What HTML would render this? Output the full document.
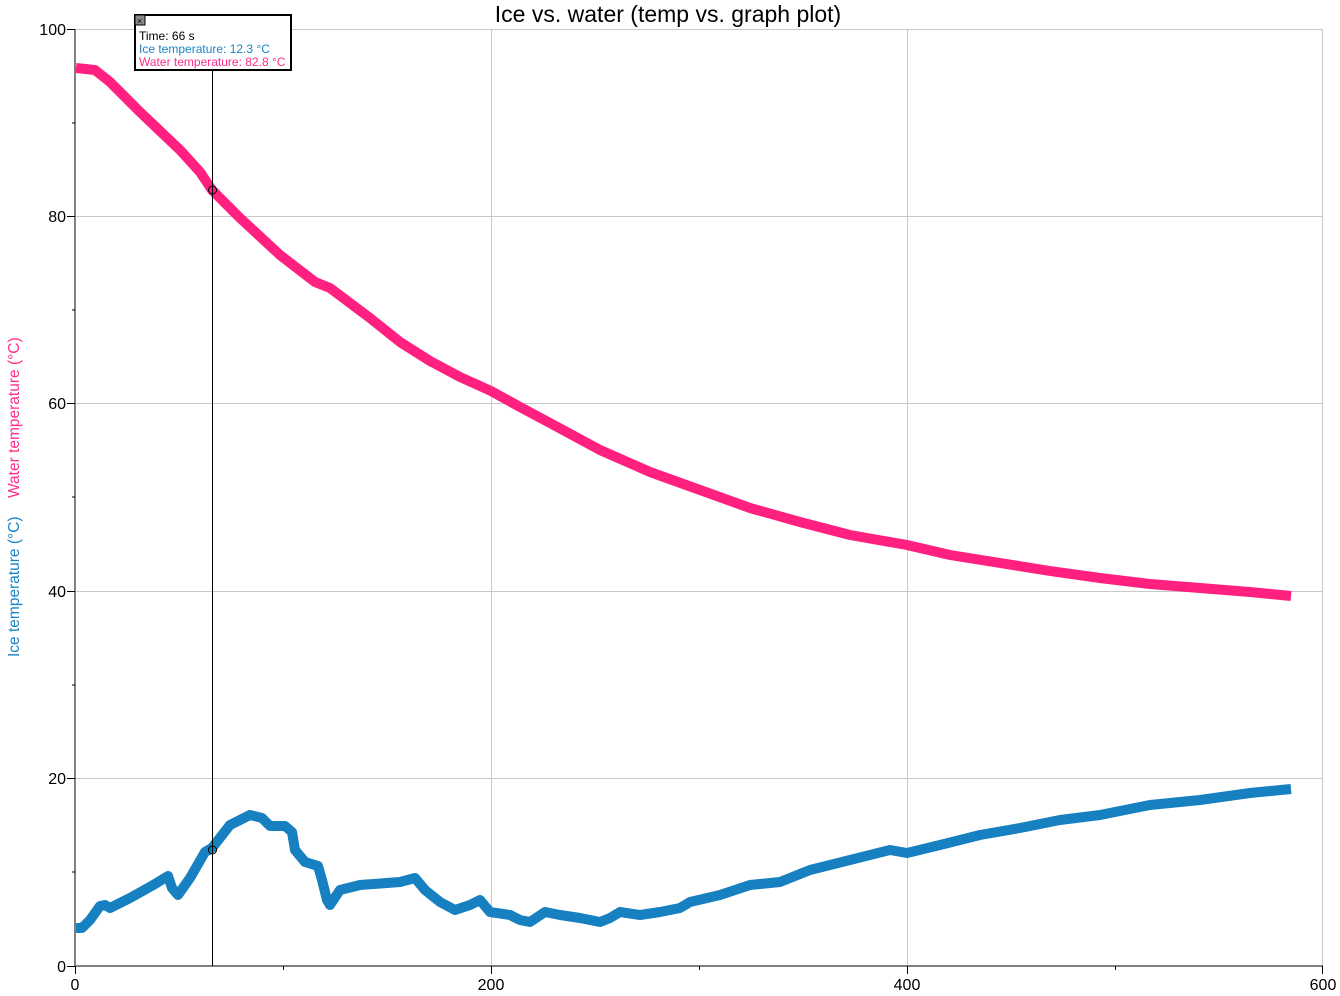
<!DOCTYPE html>
<html><head><meta charset="utf-8"><style>
html,body{margin:0;padding:0;background:#fff;}
svg{display:block;font-family:"Liberation Sans",Arial,sans-serif;}
</style></head><body>
<svg width="1340" height="996" viewBox="0 0 1340 996" xmlns="http://www.w3.org/2000/svg">
<rect width="1340" height="996" fill="#fff"/>
<g stroke="#c8c8c8" stroke-width="1">
<line x1="75" y1="29.5" x2="1323" y2="29.5"/>
<line x1="75" y1="216.5" x2="1323" y2="216.5"/>
<line x1="75" y1="403.5" x2="1323" y2="403.5"/>
<line x1="75" y1="591.5" x2="1323" y2="591.5"/>
<line x1="75" y1="778.5" x2="1323" y2="778.5"/>
<line x1="491.5" y1="29" x2="491.5" y2="966"/>
<line x1="907.5" y1="29" x2="907.5" y2="966"/>
<line x1="1322.5" y1="29" x2="1322.5" y2="966"/>
</g>
<g stroke="#808080" stroke-width="2">
<line x1="75" y1="29" x2="75" y2="967"/>
<line x1="74" y1="966" x2="1323" y2="966"/>
</g>
<g stroke="#000" stroke-width="1">
<line x1="67" y1="29.5" x2="75" y2="29.5"/><line x1="67" y1="216.5" x2="75" y2="216.5"/>
<line x1="67" y1="403.5" x2="75" y2="403.5"/><line x1="67" y1="591.5" x2="75" y2="591.5"/>
<line x1="67" y1="778.5" x2="75" y2="778.5"/><line x1="67" y1="966.5" x2="75" y2="966.5"/>
<line x1="72" y1="123" x2="75" y2="123"/><line x1="72" y1="310" x2="75" y2="310"/>
<line x1="72" y1="497" x2="75" y2="497"/><line x1="72" y1="685" x2="75" y2="685"/><line x1="72" y1="872" x2="75" y2="872"/>
<line x1="75.5" y1="966" x2="75.5" y2="974"/><line x1="491.5" y1="966" x2="491.5" y2="974"/>
<line x1="907.5" y1="966" x2="907.5" y2="974"/><line x1="1322.5" y1="966" x2="1322.5" y2="974"/>
<line x1="283.5" y1="966" x2="283.5" y2="970"/><line x1="699.5" y1="966" x2="699.5" y2="970"/><line x1="1115.5" y1="966" x2="1115.5" y2="970"/>
</g>
<g font-size="16" fill="#000" text-anchor="end">
<text x="66" y="35">100</text><text x="66" y="222">80</text><text x="66" y="409">60</text>
<text x="66" y="597">40</text><text x="66" y="784">20</text><text x="66" y="972">0</text>
</g>
<g font-size="16" fill="#000" text-anchor="middle">
<text x="75" y="990">0</text><text x="491" y="990">200</text><text x="907" y="990">400</text><text x="1323" y="990">600</text>
</g>
<text x="668" y="22" font-size="23" text-anchor="middle" fill="#000">Ice vs. water (temp vs. graph plot)</text>
<text transform="translate(19,657) rotate(-90)" font-size="15.5" fill="#1a84c4">Ice temperature (°C)</text>
<text transform="translate(19,498) rotate(-90)" font-size="15.5" fill="#ff2d8a">Water temperature (°C)</text>
<polyline fill="none" stroke="#ff2080" stroke-width="10" stroke-linejoin="round" points="76,68 95,70 110,82 140,112 180,150 200,172 212,190 240,218 280,255 315,282 330,288 370,318 400,342 430,361 460,377 491,391 520,407 550,423 600,450 650,472 700,490 750,508 800,522 850,535 907,545 950,555 1000,563 1050,571 1100,578 1150,584 1200,588 1250,592 1291,596"/>
<polyline fill="none" stroke="#1680c0" stroke-width="10" stroke-linejoin="round" points="76,928 82,928 90,920 100,906 105,905 110,908 130,898 155,884 168,876 172,888 178,895 190,878 205,852 212,848 230,825 250,815 262,818 270,826 285,826 292,832 295,850 305,862 318,866 322,880 327,900 330,905 340,890 360,885 400,882 415,878 425,890 440,902 455,910 470,905 480,900 490,912 510,915 520,920 530,922 545,912 560,915 580,918 600,922 610,918 620,912 640,915 660,912 680,908 690,902 720,895 750,885 780,882 810,870 850,860 890,850 907,853 940,845 980,835 1020,828 1060,820 1100,815 1150,805 1200,800 1250,793 1291,789"/>
<line x1="212.5" y1="70" x2="212.5" y2="966" stroke="#000" stroke-width="1"/>
<circle cx="212.5" cy="190" r="4" fill="none" stroke="#000"/>
<circle cx="212.5" cy="850" r="4" fill="none" stroke="#000"/>
<rect x="135" y="15" width="156" height="55" fill="#fff" stroke="#000" stroke-width="2"/>
<rect x="135" y="15" width="10" height="10" fill="#888" stroke="#000"/>
<text x="137" y="24" font-size="9" fill="#000">×</text>
<text x="139" y="40" font-size="12" fill="#000">Time: 66 s</text>
<text x="139" y="53" font-size="12" fill="#1a84c4">Ice temperature: 12.3 °C</text>
<text x="139" y="66" font-size="12" fill="#ff2d8a">Water temperature: 82.8 °C</text>
</svg>
</body></html>
